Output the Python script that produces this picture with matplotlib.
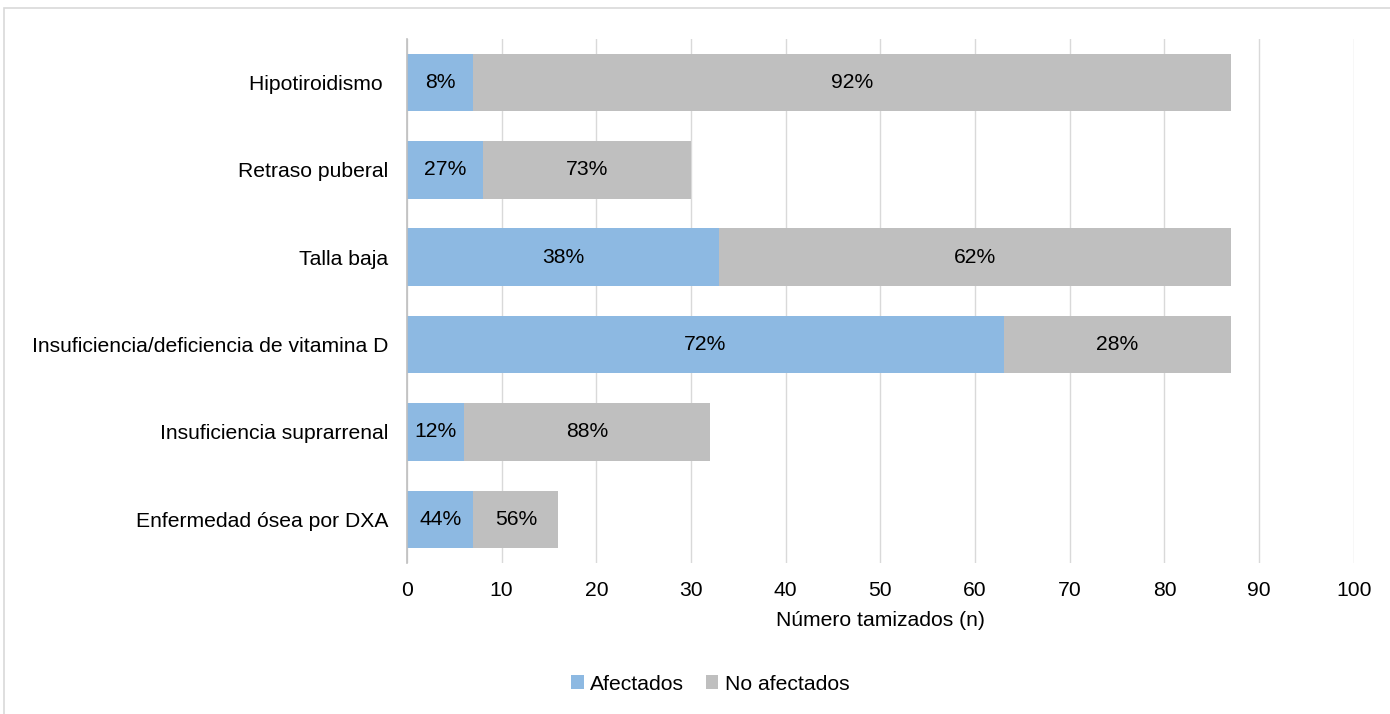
import matplotlib
matplotlib.use("Agg")
import matplotlib.pyplot as plt
from matplotlib.patches import Rectangle
import numpy as np

plt.rcParams['font.family'] = ['Liberation Sans', 'DejaVu Sans']

categories = [
    "Hipotiroidismo ",
    "Retraso puberal",
    "Talla baja",
    "Insuficiencia/deficiencia de vitamina D",
    "Insuficiencia suprarrenal",
    "Enfermedad ósea por DXA",
]
afectados = [7, 8, 33, 63, 6, 7]
no_afectados = [80, 22, 54, 24, 26, 9]
pct_afectados = ["8%", "27%", "38%", "72%", "12%", "44%"]
pct_no_afectados = ["92%", "73%", "62%", "28%", "88%", "56%"]
x_ticks = [0, 10, 20, 30, 40, 50, 60, 70, 80, 90, 100]

blue = "#8db9e2"
grey = "#bfbfbf"
fs = 15.2

fig = plt.figure(figsize=(13.9, 7.14), dpi=100)
ax = fig.add_axes([0.2928, 0.2115, 0.6812, 0.7339])

y = np.arange(len(categories))
h = 0.66
ax.barh(y, afectados, height=h, color=blue, label="Afectados", zorder=3)
ax.barh(y, no_afectados, left=afectados, height=h, color=grey,
        label="No afectados", zorder=3)

for i in range(len(categories)):
    ax.text(afectados[i] / 2, y[i], pct_afectados[i], ha="center",
            va="center", fontsize=fs, color="black", zorder=4)
    ax.text(afectados[i] + no_afectados[i] / 2, y[i], pct_no_afectados[i],
            ha="center", va="center", fontsize=fs, color="black", zorder=4)

ax.set_xlim(0, 100)
ax.set_ylim(len(categories) - 0.5, -0.5)
ax.set_xticks(x_ticks)
ax.set_yticks(y)
ax.set_yticklabels(categories, fontsize=fs)
ax.tick_params(axis="x", labelsize=fs, length=0, pad=13)
ax.tick_params(axis="y", length=0, pad=13.5)
ax.grid(axis="x", color="#d9d9d9", linewidth=1, zorder=0)
for s in ["top", "right", "bottom"]:
    ax.spines[s].set_visible(False)
ax.spines["left"].set_color("#bfbfbf")
ax.spines["left"].set_linewidth(1.2)
ax.spines["left"].set_zorder(5)

ax.set_xlabel("Número tamizados (n)", fontsize=fs, labelpad=8)

leg = fig.legend(loc="center", bbox_to_anchor=(0.511, 0.042), ncol=2,
                 frameon=False, fontsize=fs, handlelength=0.6,
                 handleheight=0.6, handletextpad=0.3, columnspacing=1.0)

# outer chart-area frame
fig.patches.append(Rectangle((4 / 1390, -0.1), 1.2, 1 - 8.5 / 714 + 0.1,
                             transform=fig.transFigure, fill=False,
                             edgecolor="#d9d9d9", linewidth=1.2))

fig.savefig("out.png", dpi=100)
